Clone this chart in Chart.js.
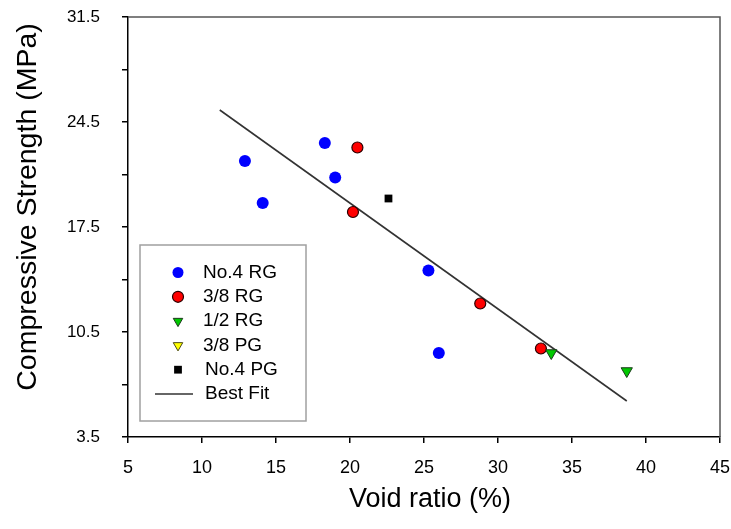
<!DOCTYPE html>
<html><head><meta charset="utf-8">
<script src="https://cdn.jsdelivr.net/npm/chart.js@4.4.0/dist/chart.umd.min.js"></script>
<style>html,body{margin:0;padding:0;background:#fff}#wrap{width:731px;height:529px;position:relative}</style>
</head><body><div id="wrap"><canvas id="c" width="731" height="529"></canvas></div>
<script>
// ---- data ----
const seriesNames = ['No.4 RG', '3/8 RG', '1/2 RG', '3/8 PG', 'No.4 PG', 'Best Fit'];
const no4RG_void = [12.9, 14.1, 18.3, 19.0, 25.3, 26.0];
const no4RG_strength = [21.9, 19.1, 23.1, 20.8, 14.6, 9.1];
const rg38_void = [20.5, 20.2, 28.8, 32.9];
const rg38_strength = [22.8, 18.5, 12.4, 9.4];
const rg12_void = [33.6, 38.7];
const rg12_strength = [9.1, 7.9];
const pg38_void = [];
const pg38_strength = [];
const no4PG_void = [22.6];
const no4PG_strength = [19.4];
const bestFit_void = [11.2, 38.7];
const bestFit_strength = [25.3, 5.9];
const xTicks = [5, 10, 15, 20, 25, 30, 35, 40, 45];
const yTicks = [3.5, 7, 10.5, 14, 17.5, 21, 24.5, 28, 31.5];
const yTickLabels = ['3.5', '', '10.5', '', '17.5', '', '24.5', '', '31.5'];
const xTitle = 'Void ratio (%)';
const yTitle = 'Compressive Strength (MPa)';

const pts = (xs, ys) => xs.map((x, i) => ({x: x, y: ys[i]}));
const FONT = "'Liberation Sans', Arial, Helvetica, sans-serif";

const styles = [
  {pointStyle: 'circle', radius: 6, bg: '#0000ff', border: '#0000ff', bw: 0, rot: 0, order: 5},
  {pointStyle: 'circle', radius: 5.5, bg: '#ff0000', border: '#2a0000', bw: 1.2, rot: 0, order: 4},
  {pointStyle: 'triangle', radius: 6.5, bg: '#00c800', border: '#1a3a1a', bw: 1, rot: 180, order: 3},
  {pointStyle: 'triangle', radius: 6.5, bg: '#ffff00', border: '#4a4a1a', bw: 1, rot: 180, order: 2},
  {pointStyle: 'rect', radius: 5.5, bg: '#000000', border: '#000000', bw: 0, rot: 0, order: 1}
];
const seriesData = [
  pts(no4RG_void, no4RG_strength),
  pts(rg38_void, rg38_strength),
  pts(rg12_void, rg12_strength),
  pts(pg38_void, pg38_strength),
  pts(no4PG_void, no4PG_strength)
];

const datasets = seriesData.map((d, i) => ({
  label: seriesNames[i], data: d, showLine: false,
  pointStyle: styles[i].pointStyle, pointRadius: styles[i].radius,
  pointBackgroundColor: styles[i].bg, pointBorderColor: styles[i].border,
  pointBorderWidth: styles[i].bw, pointRotation: styles[i].rot, order: styles[i].order
}));
datasets.push({
  label: seriesNames[5], data: pts(bestFit_void, bestFit_strength), showLine: true,
  borderColor: '#333333', borderWidth: 1.6, pointRadius: 0, order: 6
});

const framePlugin = {
  id: 'frameLegend',
  afterDraw(chart) {
    const ctx = chart.ctx, a = chart.chartArea;
    ctx.save();
    // top & right frame
    ctx.strokeStyle = '#555';
    ctx.lineWidth = 1.5;
    ctx.beginPath();
    ctx.moveTo(a.left, a.top); ctx.lineTo(a.right, a.top); ctx.lineTo(a.right, a.bottom);
    ctx.stroke();
    // axis titles
    ctx.fillStyle = '#000';
    ctx.textAlign = 'center';
    ctx.textBaseline = 'middle';
    ctx.font = '27px ' + FONT;
    ctx.fillText(xTitle, (a.left + a.right) / 2 + 6, 500);
    ctx.save();
    ctx.translate(28, (a.top + a.bottom) / 2 - 20);
    ctx.rotate(-Math.PI / 2);
    ctx.font = '28.5px ' + FONT;
    ctx.fillText(yTitle, 0, 0);
    ctx.restore();
    // legend box
    const bx = a.left + 12, by = 245, bw = 166, bh = a.bottom - 16 - by;
    ctx.fillStyle = '#fff';
    ctx.fillRect(bx, by, bw, bh);
    ctx.strokeStyle = '#a0a0a0';
    ctx.lineWidth = 1.5;
    ctx.strokeRect(bx, by, bw, bh);
    const mx = bx + 38, tx = bx + 63, y0 = by + 27.5, dy = 24.3;
    ctx.font = '19px ' + FONT;
    ctx.textBaseline = 'middle';
    ctx.textAlign = 'left';
    for (let i = 0; i < 6; i++) {
      const y = y0 + i * dy;
      const ds = chart.data.datasets[i];
      if (i < 5) {
        ctx.fillStyle = ds.pointBackgroundColor;
        ctx.strokeStyle = ds.pointBorderColor;
        ctx.lineWidth = ds.pointBorderWidth;
        Chart.helpers.drawPoint(ctx, {
          pointStyle: ds.pointStyle, radius: Math.min(ds.pointRadius, 5.5), rotation: ds.pointRotation,
          borderWidth: ds.pointBorderWidth
        }, mx, y);
      } else {
        ctx.strokeStyle = ds.borderColor;
        ctx.lineWidth = ds.borderWidth;
        ctx.beginPath();
        ctx.moveTo(bx + 15, y); ctx.lineTo(bx + 53, y);
        ctx.stroke();
      }
      ctx.fillStyle = '#000';
      ctx.fillText(ds.label, tx + (i >= 4 ? 2 : 0), y);
    }
    ctx.restore();
  }
};

new Chart(document.getElementById('c'), {
  type: 'scatter',
  data: {datasets: datasets},
  plugins: [framePlugin],
  options: {
    responsive: false,
    animation: false,
    layout: {padding: {left: 0, right: 11, top: 17, bottom: 0}},
    plugins: {legend: {display: false}, tooltip: {enabled: false}},
    scales: {
      x: {
        type: 'linear', min: 5, max: 45,
        afterBuildTicks: s => { s.ticks = xTicks.map(v => ({value: v})); },
        afterFit: s => { s.height = 92; s.paddingLeft = 0; s.paddingRight = 0; },
        grid: {drawOnChartArea: false, drawTicks: true, tickLength: 6, color: '#000', lineWidth: 1.5},
        border: {display: true, color: '#000', width: 1.5},
        ticks: {color: '#000', padding: 14, font: {family: FONT, size: 18}, maxRotation: 0, autoSkip: false},
        title: {display: false}
      },
      y: {
        type: 'linear', min: 3.5, max: 31.5,
        afterBuildTicks: s => { s.ticks = yTicks.map(v => ({value: v})); },
        afterFit: s => { s.width = 128; s.paddingTop = 0; s.paddingBottom = 0; },
        grid: {drawOnChartArea: false, drawTicks: true, tickLength: 6, color: '#000', lineWidth: 1.5},
        border: {display: true, color: '#000', width: 1.5},
        ticks: {color: '#000', padding: 22, font: {family: FONT, size: 17}, autoSkip: false,
          callback: (v, i) => yTickLabels[i]},
        title: {display: false}
      }
    }
  }
});
</script></body></html>
